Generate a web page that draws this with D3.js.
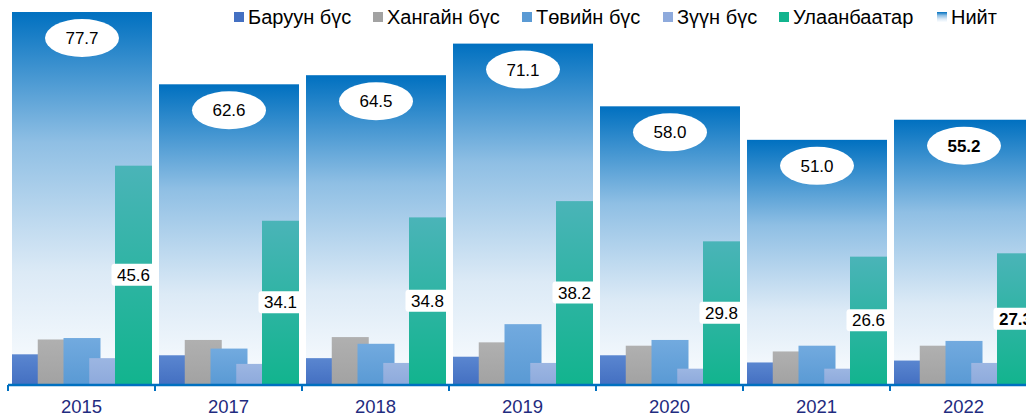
<!DOCTYPE html>
<html>
<head>
<meta charset="utf-8">
<script src="https://cdn.jsdelivr.net/npm/d3@7"></script>
<style>
  body { margin: 0; background: #fff; }
  svg { display: block; font-family: "Liberation Sans", Arial, sans-serif; }
</style>
</head>
<body>
<script>
// chart data
const years = ["2015", "2017", "2018", "2019", "2020", "2021", "2022"];
const seriesNames = ["Баруун бүс", "Хангайн бүс", "Төвийн бүс", "Зүүн бүс", "Улаанбаатар"];
const baruun = [6.2, 6.0, 5.4, 5.7, 6.0, 4.5, 4.9];
const khangai = [9.3, 9.2, 9.8, 8.7, 8.0, 6.8, 8.0];
const tuv = [9.6, 7.4, 8.4, 12.5, 9.2, 8.0, 9.0];
const zuun = [5.4, 4.2, 4.4, 4.4, 3.2, 3.2, 4.4];
const ulaanbaatar = [45.6, 34.1, 34.8, 38.2, 29.8, 26.6, 27.3];
const niit = [77.7, 62.6, 64.5, 71.1, 58.0, 51.0, 55.2];
const boldYears = ["2022"];

const series = [baruun, khangai, tuv, zuun, ulaanbaatar];
const fills = [
  ["#5a86d0", "#4470c2"],
  ["#b0b0b0", "#a2a2a2"],
  ["#72aadf", "#5a9ad4"],
  ["#9cb6e2", "#8eaadc"],
  ["#4ab4b8", "#12b48e"]
];

const W = 1026, H = 417;
const svg = d3.select("body").append("svg").attr("width", W).attr("height", H);
const defs = svg.append("defs");

const tg = defs.append("linearGradient").attr("id", "gTot")
  .attr("x1", 0).attr("y1", 0).attr("x2", 0).attr("y2", 1);
[[0, "#0070c0"], [0.35, "#8fbfe4"], [0.7, "#dceaf6"], [1, "#fbfdff"]].forEach(s =>
  tg.append("stop").attr("offset", s[0]).attr("stop-color", s[1]));

fills.forEach((f, i) => {
  const g = defs.append("linearGradient").attr("id", "gS" + i)
    .attr("x1", 0).attr("y1", 0).attr("x2", 0).attr("y2", 1);
  g.append("stop").attr("offset", 0).attr("stop-color", f[0]);
  g.append("stop").attr("offset", 1).attr("stop-color", f[1]);
});

const x = d3.scaleBand().domain(years).range([8, 8 + 7 * 147]).padding(0);
const y = d3.scaleLinear().domain([0, 80]).range([384, 1]);
const sub = d3.scaleLinear().domain([0, 4]).range([0, 103]);
const subW = 37;

// total bars
svg.selectAll(".tot").data(years).enter().append("rect")
  .attr("class", "tot")
  .attr("x", d => x(d) + 4)
  .attr("width", 140)
  .attr("y", (d, i) => y(niit[i]))
  .attr("height", (d, i) => y(0) - y(niit[i]))
  .attr("fill", "url(#gTot)");

// regional bars
series.forEach((vals, si) => {
  svg.selectAll(".s" + si).data(years).enter().append("rect")
    .attr("class", "s" + si)
    .attr("x", d => x(d) + 4 + sub(si))
    .attr("width", subW)
    .attr("y", (d, i) => y(vals[i]))
    .attr("height", (d, i) => y(0) - y(vals[i]))
    .attr("fill", "url(#gS" + si + ")");
});

// total labels in ellipses
const tl = svg.selectAll(".tl").data(years).enter().append("g")
  .attr("transform", (d, i) => `translate(${x(d) + 74},${y(niit[i]) + 26})`);
tl.append("ellipse").attr("rx", 37).attr("ry", 19).attr("fill", "#fff");
tl.append("text").attr("text-anchor", "middle").attr("dy", "0.35em")
  .style("font-size", "17px")
  .style("font-weight", d => boldYears.includes(d) ? "bold" : "normal")
  .text((d, i) => niit[i].toFixed(1));

// Ulaanbaatar labels
const ul = svg.selectAll(".ul").data(years).enter().append("g")
  .attr("transform", (d, i) => `translate(${x(d) + 4 + sub(4) + subW / 2},${(y(0) + y(ulaanbaatar[i])) / 2})`);
ul.append("rect").attr("x", -22).attr("y", -11).attr("width", 44).attr("height", 22)
  .attr("rx", 3).attr("fill", "#fff");
ul.append("text").attr("text-anchor", "middle").attr("dy", "0.36em")
  .style("font-size", "17px")
  .style("font-weight", d => boldYears.includes(d) ? "bold" : "normal")
  .text((d, i) => ulaanbaatar[i].toFixed(1));

// x axis
const axis = svg.append("g").attr("transform", "translate(0,385)")
  .call(d3.axisBottom(x).tickSize(0).tickPadding(15));
axis.select(".domain").remove();
axis.append("line").attr("x1", 8).attr("x2", W).attr("stroke", "#0070c0").attr("stroke-width", 2.5);
axis.selectAll(".tb").data(d3.range(8)).enter().append("line")
  .attr("x1", i => 8 + i * 147).attr("x2", i => 8 + i * 147)
  .attr("y1", 0).attr("y2", 6)
  .attr("stroke", "#0070c0").attr("stroke-width", 2);
axis.selectAll(".tick text")
  .style("font-size", "18.5px")
  .style("font-family", "'Liberation Sans', Arial, sans-serif")
  .attr("fill", "#1f2c80");

// legend
const legendItems = seriesNames.concat(["Нийт"]);
const legendX = [234, 373, 522, 663, 779, 937];
const lg = svg.selectAll(".lg").data(legendItems).enter().append("g")
  .attr("transform", (d, i) => `translate(${legendX[i]},12)`);
lg.append("rect").attr("width", 10).attr("height", 10)
  .attr("fill", (d, i) => i < 5 ? fills[i][1] : "url(#gTot)");
lg.append("text").attr("x", 14).attr("y", 5).attr("dy", "0.36em")
  .style("font-size", "20px").attr("fill", "#000")
  .text(d => d);
</script>
</body>
</html>
